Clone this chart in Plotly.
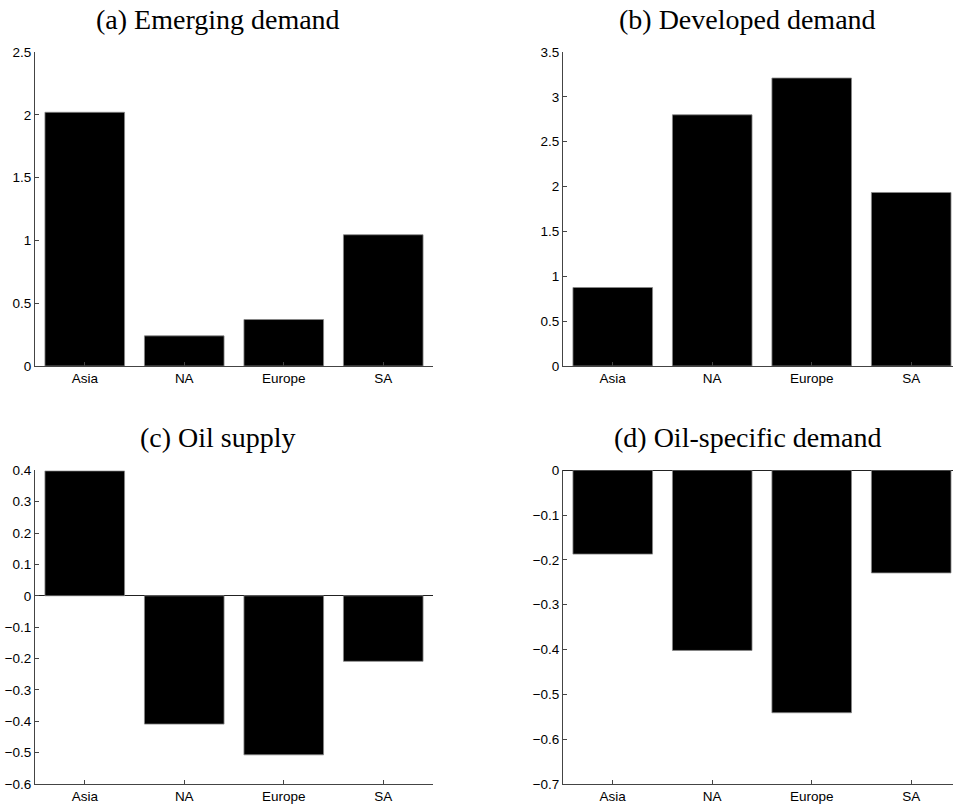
import plotly.graph_objects as go

regions = ["Asia", "NA", "Europe", "SA"]
titles = ["(a) Emerging demand", "(b) Developed demand", "(c) Oil supply", "(d) Oil-specific demand"]
emerging = [2.02, 0.24, 0.37, 1.045]
developed = [0.875, 2.80, 3.21, 1.934]
oil_supply = [0.398, -0.409, -0.507, -0.209]
oil_specific = [-0.187, -0.402, -0.541, -0.229]

y_ranges = [[0, 2.5], [0, 3.5], [-0.6, 0.4], [-0.7, 0]]
x_ranges = [[0.5, 4.5], [0.5, 4.42], [0.5, 4.5], [0.5, 4.42]]

W, H = 953, 807
x_doms = [[35 / W, 433 / W], [563 / W, 1.0], [35 / W, 433 / W], [563 / W, 1.0]]
top_dom = [(H - 366) / H, (H - 52) / H]
bot_dom = [(H - 784) / H, (H - 470.3) / H]
y_doms = [top_dom, top_dom, bot_dom, bot_dom]
title_pos = [(218 / W, 1 - 19.5 / H), (747 / W, 1 - 19.5 / H),
             (218 / W, 1 - 437.5 / H), (747 / W, 1 - 437.5 / H)]

series = [emerging, developed, oil_supply, oil_specific]
axis_color = "#444444"
tick_font = dict(family="Liberation Sans, Arial, sans-serif", size=13.5, color="black")

fig = go.Figure()
layout = dict(autosize=True, margin=dict(l=0, r=0, t=0, b=0, autoexpand=False),
              plot_bgcolor="white", paper_bgcolor="white", showlegend=False,
              bargap=0.2, annotations=[])

for i, vals in enumerate(series):
    n = i + 1
    xa = "x" if n == 1 else f"x{n}"
    ya = "y" if n == 1 else f"y{n}"
    fig.add_trace(go.Bar(x=[1, 2, 3, 4], y=vals, xaxis=xa, yaxis=ya, width=0.8,
                         marker=dict(color="black", line=dict(color="#888888", width=0.8))))
    xkey = "xaxis" if n == 1 else f"xaxis{n}"
    ykey = "yaxis" if n == 1 else f"yaxis{n}"
    layout[xkey] = dict(domain=x_doms[i], anchor=ya, range=x_ranges[i],
                        tickmode="array", tickvals=[1, 2, 3, 4], ticktext=regions,
                        showline=True, linecolor=axis_color, linewidth=1,
                        ticks="inside", ticklen=4, tickcolor=axis_color,
                        showgrid=False, zeroline=False, tickfont=tick_font, fixedrange=True)
    layout[ykey] = dict(domain=y_doms[i], anchor=xa, range=y_ranges[i],
                        dtick=0.5 if i < 2 else 0.1, tick0=0,
                        showline=True, linecolor=axis_color, linewidth=1,
                        ticks="inside", ticklen=4, tickcolor=axis_color,
                        showgrid=False, zeroline=(i >= 2), zerolinecolor="#222222",
                        zerolinewidth=1, tickfont=tick_font, fixedrange=True)
    layout["annotations"].append(dict(text=titles[i], x=title_pos[i][0], y=title_pos[i][1],
                                      xref="paper", yref="paper", showarrow=False,
                                      xanchor="center", yanchor="middle",
                                      font=dict(family="Liberation Serif, serif", size=28,
                                                color="black")))

fig.update_layout(**layout)

post = (
    "var s=document.createElement('style');"
    "s.innerHTML='html,body{margin:0;padding:0;width:100%;height:100%;overflow:hidden;}"
    "body>div{width:100%;height:100%;}';"
    "document.head.appendChild(s);"
    "var gd=document.getElementById('{plot_id}');"
    "gd.style.width='100vw';gd.style.height='100vh';"
    "Plotly.Plots.resize(gd);"
)
fig.write_html("out.html", config={"displayModeBar": False, "responsive": True},
               default_width="100%", default_height="100%", post_script=post)
